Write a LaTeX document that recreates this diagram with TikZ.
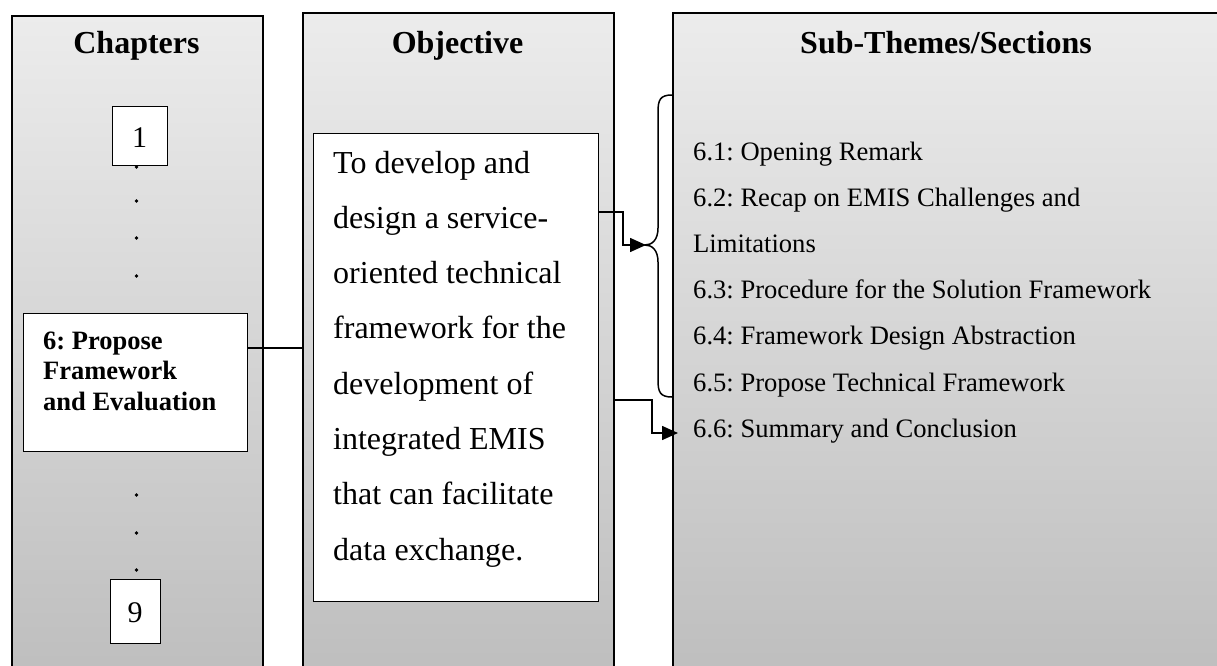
\documentclass[tikz,border=0pt]{standalone}
\usepackage{fontspec}
\setmainfont{Liberation Serif}
\usetikzlibrary{arrows.meta}
\frenchspacing
\begin{document}
\begin{tikzpicture}[x=1pt,y=-1pt,
  panel/.style={draw=black, line width=1.8pt, top color=gray!15, bottom color=gray!52, inner sep=0pt, anchor=north west},
  wbox/.style={draw=black, line width=1.4pt, fill=white, inner sep=0pt, anchor=north west},
  ttl/.style={font=\fontsize{32}{38}\selectfont\bfseries, anchor=base, inner sep=0pt},
  numtxt/.style={font=\fontsize{30}{36}\selectfont, anchor=base, inner sep=0pt},
  midtxt/.style={font=\fontsize{32}{38}\selectfont, anchor=base west, inner sep=0pt},
  sectxt/.style={font=\fontsize{26.6}{30}\selectfont, anchor=base west, inner sep=0pt},
  chtxt/.style={font=\fontsize{26.5}{30}\selectfont\bfseries, anchor=base west, inner sep=0pt},
  conn/.style={line width=1.5pt},
  arr/.style={line width=1.5pt, -{Triangle[length=16pt,width=14pt]}},
  dotm/.style={fill=black}
]
\useasboundingbox (0,0) rectangle (1217,666);
\clip (0,0) rectangle (1217,666);

% panels
\node[panel, minimum width=251pt, minimum height=680pt] (chap) at (11,15) {};
\node[panel, minimum width=311pt, minimum height=680pt] (mid) at (302,12) {};
\node[panel, minimum width=550pt, minimum height=680pt] (rgt) at (672,12) {};

% titles
\node[ttl] (tchap) at (136.5,54) {Chapters};
\node[ttl] (tobj) at (457.5,54) {Objective};
\node[ttl] (tsub) at (946,54) {Sub-Themes/Sections};

% chapter boxes
\node[wbox, minimum width=55pt, minimum height=59pt] (box1) at (112,106) {};
\node[numtxt] (n1) at (139.5,147) {1};
\node[wbox, minimum width=50pt, minimum height=64pt] (box9) at (110,579) {};
\node[numtxt] (n9) at (135,622) {9};
\node[wbox, minimum width=224pt, minimum height=138pt] (box6) at (23,313) {};
\node[chtxt] (c1) at (43,349) {6: Propose};
\node[chtxt] (c2) at (43,379) {Framework};
\node[chtxt] (c3) at (43,410) {and Evaluation};

% dots
\foreach \yy in {167,201,238,276,495,533,570}
  \fill[dotm] (136.5,\yy) circle (1.8);

% objective box
\node[wbox, minimum width=285pt, minimum height=468pt] (inner) at (313,133) {};
\foreach \t [count=\i from 0] in {To develop and, design a service-, oriented technical, framework for the, development of, integrated EMIS, that can facilitate, data exchange.}
  \node[midtxt] (m\i) at (333,{173+55.3*\i}) {\t};

% sections
\foreach \t [count=\i from 0] in {6.1: Opening Remark, 6.2: Recap on EMIS Challenges and, Limitations, 6.3: Procedure for the Solution Framework, 6.4: Framework Design Abstraction, 6.5: Propose Technical Framework, 6.6: Summary and Conclusion}
  \node[sectxt] (s\i) at (693,{160.5+46.1*\i}) {\t};

% brace
\draw[conn] (rgt.west |- 0,95) .. controls (660,95) and (658,100) .. (658,112)
  -- (658,228) .. controls (658,240) and (652,245) .. (645,245)
  .. controls (652,245) and (658,250) .. (658,262)
  -- (658,380) .. controls (658,392) and (660,397) .. (rgt.west |- 0,397);

% connectors
\coordinate (y348) at (0,348);
\draw[conn] (box6.east |- y348) -- (mid.west |- y348);

\coordinate (y212) at (0,212);
\coordinate (k1) at (623,245);
\coordinate (btip) at (646,245);
\draw[arr] (inner.east |- y212) -| (k1) -- (btip);

\coordinate (y400) at (0,400);
\coordinate (k2) at (652,433);
\coordinate (s6tip) at (678,433);
\draw[arr] (mid.east |- y400) -| (k2) -- (s6tip);
\end{tikzpicture}
\end{document}
